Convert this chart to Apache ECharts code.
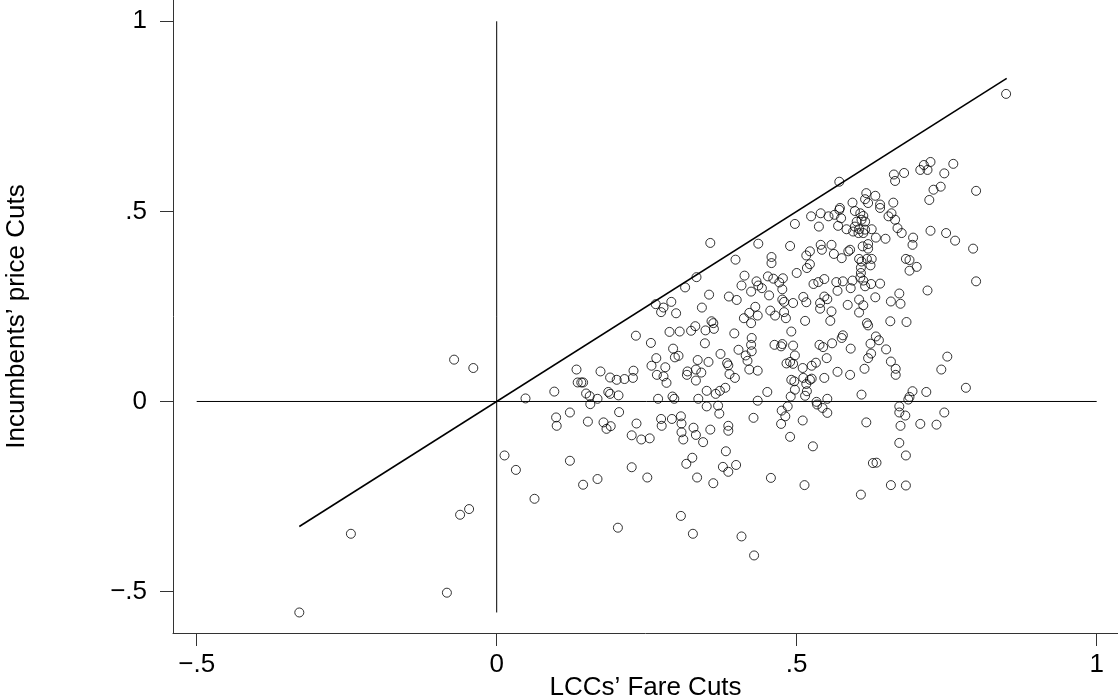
<!DOCTYPE html>
<html>
<head>
<meta charset="utf-8">
<script src="https://cdn.jsdelivr.net/npm/echarts@6/dist/echarts.min.js"></script>
<style>
  html, body { margin: 0; padding: 0; background: #fff; }
  #scatter { width: 1118px; height: 698px; }
</style>
</head>
<body>
<div id="scatter"></div>
<script>
// axis ticks
var xTicks = [-0.5, 0, 0.5, 1];
var yTicks = [-0.5, 0, 0.5, 1];

// reference lines
var zeroH = [[-0.5, 0], [1, 0]];
var zeroV = [[0, -0.555], [0, 1]];
var diagLine = [[-0.329, -0.329], [0.85, 0.85]];

// outliers and points near the origin
var ptsNearZero = [
  [-0.329,-0.555],[-0.243,-0.348],[-0.083,-0.503],[-0.061,-0.298],[-0.046,-0.283],
  [-0.071,0.110],[-0.039,0.088],
  [0.048,0.008],[0.096,0.026],[0.133,0.084],[0.135,0.050],[0.141,0.050],[0.144,0.050],
  [0.149,0.021],[0.155,0.014],[0.168,0.007],[0.156,-0.007],[0.173,0.079],
  [0.099,-0.042],[0.100,-0.064],[0.122,-0.029],[0.152,-0.053],[0.178,-0.055],[0.183,-0.072],[0.190,-0.065],
  [0.013,-0.142],[0.032,-0.180],[0.122,-0.156],[0.144,-0.219],[0.168,-0.204],[0.063,-0.256]
];

// x between .2 and .5, y above .2
var ptsMidUpper = [
  [0.356,0.417],[0.497,0.467],[0.436,0.415],[0.489,0.409],[0.398,0.373],[0.458,0.380],[0.458,0.364],
  [0.500,0.338],[0.333,0.327],[0.413,0.331],[0.452,0.329],[0.461,0.323],[0.477,0.324],[0.471,0.313],[0.433,0.316],
  [0.314,0.300],[0.408,0.305],[0.424,0.289],[0.436,0.305],[0.442,0.298],[0.454,0.279],[0.476,0.295],
  [0.354,0.281],[0.387,0.276],[0.400,0.267],[0.476,0.268],[0.479,0.262],[0.494,0.259],
  [0.265,0.256],[0.278,0.247],[0.274,0.235],[0.291,0.262],[0.299,0.232],[0.342,0.247],
  [0.431,0.249],[0.421,0.233],[0.435,0.226],[0.412,0.219],[0.424,0.206],[0.456,0.239],[0.464,0.226],
  [0.479,0.235],[0.482,0.219]
];

// x between .2 and .5, y between 0 and .2
var ptsMidLow = [
  [0.232,0.173],[0.331,0.198],[0.324,0.186],[0.288,0.183],[0.305,0.184],
  [0.358,0.211],[0.361,0.206],[0.348,0.187],[0.362,0.191],[0.396,0.179],
  [0.425,0.167],[0.424,0.149],[0.425,0.132],[0.403,0.136],[0.415,0.121],[0.418,0.107],[0.421,0.084],[0.435,0.081],
  [0.463,0.149],[0.474,0.145],[0.476,0.151],[0.491,0.184],[0.494,0.147],[0.497,0.121],[0.489,0.104],[0.494,0.099],[0.483,0.100],
  [0.257,0.154],[0.294,0.139],[0.266,0.114],[0.258,0.094],[0.281,0.090],[0.267,0.070],[0.278,0.066],[0.283,0.049],
  [0.297,0.116],[0.303,0.120],[0.335,0.109],[0.347,0.153],[0.373,0.125],[0.353,0.104],[0.384,0.101],[0.386,0.095],
  [0.318,0.079],[0.317,0.070],[0.332,0.084],[0.341,0.076],[0.332,0.055],[0.388,0.072],[0.397,0.062],
  [0.189,0.063],[0.200,0.057],[0.213,0.059],[0.228,0.081],[0.227,0.062],[0.186,0.025],[0.189,0.020],[0.203,0.016],
  [0.269,0.007],[0.293,0.013],[0.296,0.007],[0.336,0.007],[0.350,0.028],[0.365,0.020],[0.372,0.028],[0.381,0.036],
  [0.435,0.002],[0.451,0.025],[0.491,0.057],[0.496,0.053],[0.497,0.031],[0.490,0.013]
];

// x between .2 and .5, y below 0
var ptsMidNeg = [
  [0.350,-0.013],[0.369,-0.011],[0.371,-0.032],[0.204,-0.028],[0.233,-0.058],[0.225,-0.089],[0.241,-0.100],[0.255,-0.097],
  [0.274,-0.046],[0.275,-0.064],[0.292,-0.046],[0.307,-0.039],[0.308,-0.058],[0.308,-0.081],[0.311,-0.100],
  [0.328,-0.069],[0.332,-0.088],[0.344,-0.107],[0.356,-0.074],[0.386,-0.064],[0.386,-0.077],[0.382,-0.131],
  [0.326,-0.148],[0.316,-0.164],[0.377,-0.172],[0.386,-0.185],[0.399,-0.167],[0.225,-0.173],[0.251,-0.200],
  [0.334,-0.200],[0.361,-0.215],[0.428,-0.043],[0.475,-0.024],[0.485,-0.013],[0.481,-0.039],[0.474,-0.059],
  [0.489,-0.093],[0.457,-0.201],[0.307,-0.301],[0.202,-0.332],[0.327,-0.348],[0.408,-0.355],[0.429,-0.405]
];

// x above .5, y above .4
var ptsRightUpper = [
  [0.849,0.809],[0.571,0.578],[0.723,0.630],[0.712,0.622],[0.706,0.609],[0.718,0.609],[0.761,0.625],[0.746,0.600],
  [0.679,0.601],[0.662,0.597],[0.664,0.580],[0.740,0.565],[0.728,0.557],[0.799,0.554],[0.721,0.530],[0.661,0.523],
  [0.616,0.548],[0.631,0.541],[0.614,0.532],[0.619,0.522],[0.639,0.518],[0.639,0.509],[0.593,0.523],
  [0.572,0.509],[0.571,0.504],[0.563,0.491],[0.553,0.487],[0.540,0.495],[0.524,0.487],[0.537,0.460],
  [0.597,0.501],[0.606,0.495],[0.611,0.488],[0.608,0.478],[0.614,0.473],[0.600,0.473],[0.597,0.460],[0.604,0.453],
  [0.614,0.452],[0.594,0.447],[0.603,0.443],[0.611,0.443],[0.625,0.453],[0.574,0.482],[0.569,0.462],[0.583,0.453],
  [0.653,0.487],[0.658,0.495],[0.664,0.478],[0.668,0.456],[0.675,0.443],[0.723,0.449],[0.749,0.443],
  [0.632,0.431],[0.648,0.428],[0.694,0.431],[0.693,0.412],[0.764,0.423],[0.794,0.402]
];

// x above .5, y between 0 and .4
var ptsRightMid = [
  [0.540,0.412],[0.542,0.399],[0.558,0.412],[0.522,0.395],[0.516,0.384],[0.517,0.351],[0.522,0.361],
  [0.562,0.388],[0.575,0.377],[0.586,0.395],[0.589,0.399],[0.610,0.408],[0.619,0.414],[0.619,0.402],
  [0.604,0.375],[0.608,0.368],[0.617,0.375],[0.625,0.375],[0.623,0.358],[0.607,0.352],
  [0.682,0.375],[0.688,0.372],[0.688,0.344],[0.700,0.354],
  [0.607,0.338],[0.606,0.326],[0.611,0.318],[0.614,0.303],[0.624,0.309],[0.639,0.310],[0.631,0.274],
  [0.528,0.309],[0.536,0.314],[0.546,0.322],[0.566,0.314],[0.577,0.316],[0.568,0.291],[0.593,0.318],[0.590,0.298],
  [0.511,0.275],[0.516,0.261],[0.546,0.276],[0.551,0.269],[0.539,0.259],[0.539,0.244],[0.558,0.237],[0.556,0.212],[0.514,0.212],
  [0.585,0.254],[0.604,0.268],[0.611,0.253],[0.604,0.234],[0.671,0.284],[0.657,0.263],[0.673,0.257],[0.718,0.292],[0.799,0.316],
  [0.617,0.206],[0.619,0.200],[0.656,0.211],[0.683,0.209],[0.577,0.174],[0.575,0.167],
  [0.538,0.149],[0.544,0.143],[0.559,0.153],[0.590,0.139],[0.632,0.171],[0.637,0.161],[0.623,0.152],[0.649,0.137],
  [0.624,0.126],[0.619,0.114],[0.550,0.114],[0.532,0.102],[0.525,0.094],[0.510,0.088],
  [0.568,0.078],[0.589,0.070],[0.613,0.086],[0.657,0.105],[0.665,0.086],[0.665,0.070],[0.751,0.118],[0.741,0.084],
  [0.511,0.062],[0.522,0.057],[0.525,0.060],[0.516,0.046],[0.517,0.027],[0.514,0.015],[0.546,0.062],
  [0.551,0.007],[0.533,-0.001],[0.608,0.018],[0.693,0.027],[0.688,0.012],[0.716,0.025],[0.782,0.036]
];

// x above .5, y below 0
var ptsRightNeg = [
  [0.534,-0.008],[0.543,-0.017],[0.551,-0.030],[0.510,-0.050],[0.616,-0.055],
  [0.671,-0.013],[0.671,-0.029],[0.681,-0.037],[0.673,-0.064],[0.686,0.005],
  [0.706,-0.059],[0.733,-0.061],[0.746,-0.029],[0.527,-0.118],[0.671,-0.109],[0.682,-0.142],
  [0.627,-0.162],[0.633,-0.161],[0.513,-0.220],[0.607,-0.245],[0.657,-0.220],[0.682,-0.221]
];

var allPts = ptsNearZero.concat(ptsMidUpper, ptsMidLow, ptsMidNeg, ptsRightUpper, ptsRightMid, ptsRightNeg);

// stata style tick text: -.5 0 .5 1
function tickText(v) {
  if (v === 0) return '0';
  var s = String(Math.abs(v)).replace(/^0\./, '.');
  return (v < 0 ? '\u2212' : '') + s;
}

var scatterChart = echarts.init(document.getElementById('scatter'));

var fontFam = '"Liberation Sans", Arial, Helvetica, sans-serif';

scatterChart.setOption({
  animation: false,
  backgroundColor: '#fff',
  grid: { left: 173, right: 0, top: 0, bottom: 65, containLabel: false, outerBoundsMode: 'none' },
  xAxis: {
    type: 'value',
    min: -0.5395,
    max: 1.0355,
    name: 'LCCs\u2019 Fare Cuts',
    nameLocation: 'middle',
    nameGap: 42,
    nameMoveOverlap: false,
    nameTextStyle: { color: '#000', fontSize: 26, fontFamily: fontFam },
    axisLine: { show: true, onZero: false, lineStyle: { color: '#333', width: 1 } },
    axisTick: { show: true, length: 13, customValues: xTicks, lineStyle: { color: '#333' } },
    axisLabel: {
      customValues: xTicks,
      margin: 19,
      color: '#000',
      fontSize: 26,
      fontFamily: fontFam,
      formatter: tickText
    },
    splitLine: { show: false }
  },
  yAxis: {
    type: 'value',
    min: -0.609,
    max: 1.056,
    name: 'Incumbents\u2019 price Cuts',
    nameLocation: 'middle',
    nameGap: 143,
    nameTextStyle: { color: '#000', fontSize: 26, fontFamily: fontFam },
    axisLine: { show: true, onZero: false, lineStyle: { color: '#333', width: 1 } },
    axisTick: { show: true, length: 13, customValues: yTicks, lineStyle: { color: '#333' } },
    axisLabel: {
      customValues: yTicks,
      margin: 26,
      color: '#000',
      fontSize: 26,
      fontFamily: fontFam,
      formatter: tickText
    },
    splitLine: { show: false }
  },
  series: [
    {
      type: 'line',
      data: zeroH,
      symbol: 'none',
      silent: true,
      lineStyle: { color: '#000', width: 1 }
    },
    {
      type: 'line',
      data: zeroV,
      symbol: 'none',
      silent: true,
      lineStyle: { color: '#000', width: 1 }
    },
    {
      type: 'line',
      data: diagLine,
      symbol: 'none',
      silent: true,
      lineStyle: { color: '#000', width: 1.6 }
    },
    {
      type: 'scatter',
      data: allPts,
      symbol: 'circle',
      symbolSize: 9,
      itemStyle: { color: 'rgba(0,0,0,0)', borderColor: '#000', borderWidth: 1 }
    }
  ]
});
</script>
</body>
</html>
